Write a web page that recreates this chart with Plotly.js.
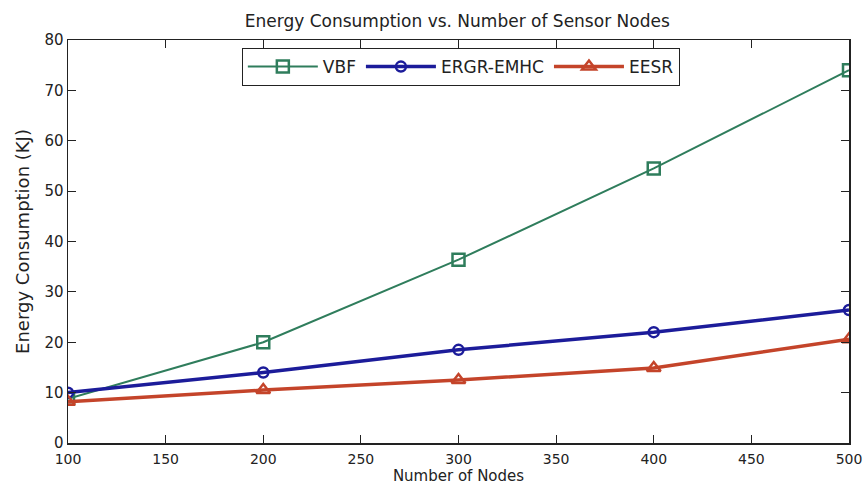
<!DOCTYPE html>
<html>
<head>
<meta charset="utf-8">
<script src="https://cdn.plot.ly/plotly-3.0.1.min.js"></script>
<style>html,body{margin:0;padding:0;background:#fff;}#chart{width:866px;height:487px;}</style>
</head>
<body>
<div id="chart"></div>
<script>
const nodes = [100, 200, 300, 400, 500];
const vbf = [8.8, 20, 36.4, 54.5, 74];
const ergr = [10, 14, 18.5, 22, 26.4];
const eesr = [8.2, 10.5, 12.5, 14.9, 20.6];
const seriesNames = ['VBF', 'ERGR-EMHC', 'EESR'];
const xTicks = [100, 150, 200, 250, 300, 350, 400, 450, 500];
const yTicks = [0, 10, 20, 30, 40, 50, 60, 70, 80];

const FONT = 'DejaVu Sans, Liberation Sans, Arial, sans-serif';

const traces = [
  {x: nodes, y: vbf, name: seriesNames[0], mode: 'lines+markers',
   line: {color: '#2f7d5c', width: 2},
   marker: {symbol: 'square-open', size: 12, color: '#2f7d5c', line: {width: 2.5}}},
  {x: nodes, y: ergr, name: seriesNames[1], mode: 'lines+markers',
   line: {color: '#1c1c9a', width: 3.5},
   marker: {symbol: 'circle-open', size: 10, color: '#1c1c9a', line: {width: 2.5}}},
  {x: nodes, y: eesr, name: seriesNames[2], mode: 'lines+markers',
   line: {color: '#c4442a', width: 3.5},
   marker: {symbol: 'triangle-up-open', size: 12, color: '#c4442a', line: {width: 2.5}}}
];

const axisCommon = {
  showline: true, linecolor: '#222', linewidth: 1.5, mirror: 'ticks',
  ticks: 'inside', ticklen: 8, tickcolor: '#222', tickwidth: 1,
  showgrid: false, zeroline: false,
  tickfont: {family: FONT, size: 15, color: '#222'}
};

const layout = {
  width: 866, height: 487,
  margin: {l: 68, r: 17, t: 40, b: 44},
  paper_bgcolor: '#fff', plot_bgcolor: '#fff',
  title: {text: 'Energy Consumption vs. Number of Sensor Nodes',
          font: {family: FONT, size: 17, color: '#222'},
          x: 0.528, xanchor: 'center', y: 0.957, yanchor: 'middle'},
  xaxis: Object.assign({}, axisCommon, {
    range: [100, 500], tickvals: xTicks, ticktext: xTicks.map(String),
    tickfont: {family: FONT, size: 14, color: '#222'},
    ticklabelstandoff: 3,
    title: {text: 'Number of Nodes', standoff: 2,
            font: {family: FONT, size: 15, color: '#222'}}
  }),
  yaxis: Object.assign({}, axisCommon, {
    range: [0, 80], tickvals: yTicks, ticktext: yTicks.map(String),
    title: {text: 'Energy Consumption (KJ)', standoff: 10,
            font: {family: FONT, size: 18, color: '#222'}}
  }),
  showlegend: true,
  legend: {orientation: 'h', x: 0.503, xanchor: 'center', y: 0.98, yanchor: 'top',
           bordercolor: '#222', borderwidth: 1, bgcolor: '#fff',
           font: {family: FONT, size: 17, color: '#222'},
           itemwidth: 70, tracegroupgap: 0}
};

Plotly.newPlot('chart', traces, layout, {displayModeBar: false, staticPlot: true});
</script>
</body>
</html>
